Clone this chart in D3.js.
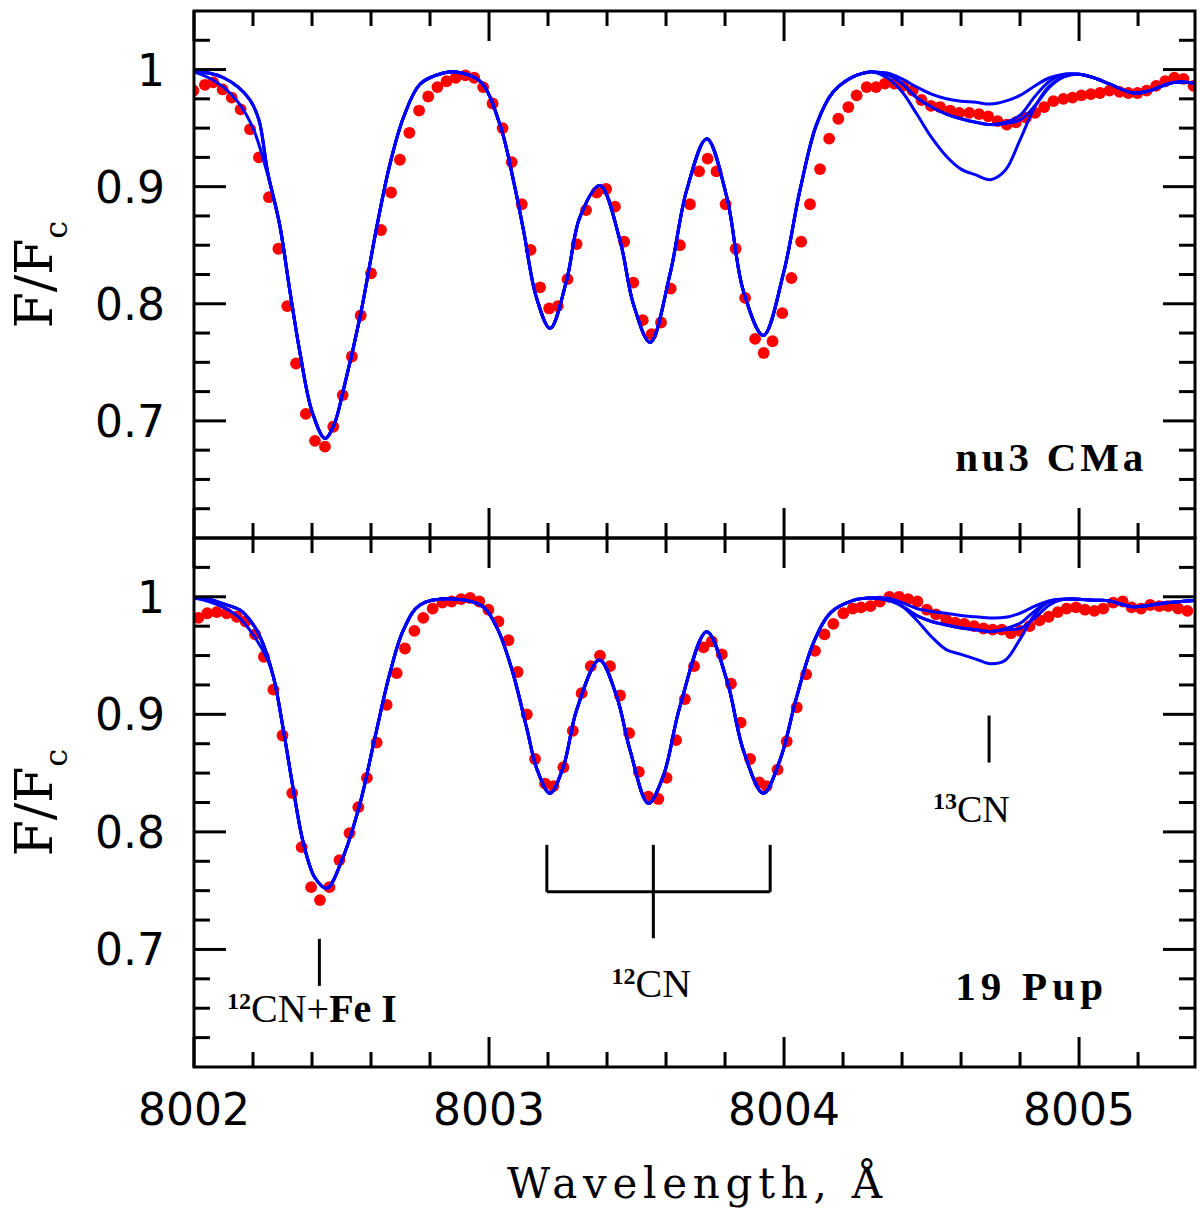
<!DOCTYPE html>
<html><head><meta charset="utf-8">
<script src="https://cdn.jsdelivr.net/npm/d3@7/dist/d3.min.js"></script>
<style>body{margin:0;background:#fff}</style>
</head><body>
<svg id="chart" width="1200" height="1216"></svg>
<script>
// ---------------- DATA ----------------
const xMajorTicks = [8002, 8003, 8004, 8005];
const xTickLabels = ["8002", "8003", "8004", "8005"];
const yMajorTicks = [0.7, 0.8, 0.9, 1.0];
const yTickLabels = ["0.7", "0.8", "0.9", "1"];

// observed spectrum, nu3 CMa  [wavelength, F/Fc]
const topObs = [[8001.998,0.982],[8002.037,0.987],[8002.065,0.989],[8002.097,0.983],[8002.128,0.976],[8002.158,0.966],[8002.190,0.949],[8002.220,0.925],[8002.254,0.891],[8002.286,0.847],[8002.316,0.798],[8002.346,0.749],[8002.379,0.706],[8002.410,0.683],[8002.444,0.678],[8002.472,0.695],[8002.504,0.722],[8002.535,0.755],[8002.565,0.790],[8002.600,0.826],[8002.634,0.863],[8002.668,0.895],[8002.698,0.923],[8002.730,0.946],[8002.763,0.965],[8002.794,0.977],[8002.825,0.985],[8002.856,0.990],[8002.887,0.993],[8002.920,0.995],[8002.950,0.993],[8002.980,0.985],[8003.012,0.971],[8003.046,0.950],[8003.077,0.921],[8003.111,0.885],[8003.141,0.846],[8003.173,0.814],[8003.204,0.796],[8003.233,0.798],[8003.266,0.821],[8003.297,0.851],[8003.329,0.880],[8003.365,0.895],[8003.397,0.898],[8003.427,0.883],[8003.458,0.853],[8003.489,0.818],[8003.521,0.786],[8003.551,0.774],[8003.583,0.784],[8003.616,0.813],[8003.647,0.850],[8003.681,0.885],[8003.712,0.913],[8003.741,0.924],[8003.771,0.913],[8003.802,0.885],[8003.836,0.847],[8003.868,0.805],[8003.902,0.770],[8003.931,0.758],[8003.961,0.768],[8003.994,0.792],[8004.025,0.822],[8004.058,0.853],[8004.088,0.885],[8004.122,0.915],[8004.153,0.941],[8004.184,0.958],[8004.218,0.968],[8004.246,0.978],[8004.280,0.985],[8004.312,0.985],[8004.342,0.988],[8004.374,0.988],[8004.404,0.986],[8004.436,0.982],[8004.466,0.974],[8004.498,0.969],[8004.529,0.968],[8004.563,0.965],[8004.594,0.963],[8004.628,0.963],[8004.661,0.962],[8004.692,0.960],[8004.724,0.956],[8004.755,0.953],[8004.786,0.955],[8004.820,0.959],[8004.851,0.963],[8004.882,0.968],[8004.913,0.973],[8004.947,0.975],[8004.978,0.976],[8005.008,0.978],[8005.040,0.979],[8005.071,0.980],[8005.103,0.982],[8005.137,0.981],[8005.167,0.980],[8005.198,0.980],[8005.229,0.982],[8005.261,0.986],[8005.292,0.990],[8005.323,0.993],[8005.354,0.992],[8005.388,0.986]];

// observed spectrum, 19 Pup
const bottomObs = [[8002.015,0.982],[8002.045,0.986],[8002.077,0.987],[8002.111,0.986],[8002.145,0.983],[8002.175,0.979],[8002.207,0.968],[8002.237,0.949],[8002.269,0.921],[8002.300,0.882],[8002.333,0.833],[8002.365,0.787],[8002.397,0.753],[8002.427,0.742],[8002.459,0.753],[8002.493,0.776],[8002.527,0.799],[8002.557,0.821],[8002.586,0.846],[8002.619,0.876],[8002.653,0.908],[8002.687,0.935],[8002.715,0.956],[8002.747,0.971],[8002.777,0.982],[8002.809,0.990],[8002.842,0.995],[8002.873,0.996],[8002.905,0.998],[8002.936,0.999],[8002.967,0.996],[8002.998,0.989],[8003.032,0.979],[8003.066,0.963],[8003.097,0.936],[8003.128,0.900],[8003.156,0.862],[8003.190,0.841],[8003.218,0.839],[8003.252,0.855],[8003.284,0.886],[8003.314,0.918],[8003.345,0.941],[8003.376,0.950],[8003.410,0.941],[8003.444,0.916],[8003.475,0.884],[8003.508,0.851],[8003.540,0.830],[8003.574,0.828],[8003.602,0.846],[8003.634,0.878],[8003.664,0.913],[8003.695,0.941],[8003.727,0.957],[8003.755,0.962],[8003.789,0.951],[8003.820,0.926],[8003.853,0.893],[8003.885,0.862],[8003.916,0.842],[8003.941,0.839],[8003.978,0.853],[8004.009,0.877],[8004.043,0.906],[8004.075,0.934],[8004.105,0.954],[8004.137,0.968],[8004.167,0.977],[8004.201,0.986],[8004.233,0.990],[8004.261,0.991],[8004.293,0.992],[8004.325,0.996],[8004.357,1.000],[8004.390,1.000],[8004.421,0.998],[8004.452,0.996],[8004.484,0.989],[8004.515,0.985],[8004.549,0.981],[8004.580,0.978],[8004.611,0.977],[8004.644,0.975],[8004.676,0.973],[8004.707,0.972],[8004.738,0.972],[8004.769,0.969],[8004.800,0.971],[8004.832,0.975],[8004.866,0.980],[8004.897,0.983],[8004.928,0.987],[8004.958,0.990],[8004.990,0.991],[8005.020,0.989],[8005.052,0.988],[8005.082,0.990],[8005.116,0.995],[8005.148,0.996],[8005.178,0.991],[8005.210,0.990],[8005.241,0.993],[8005.272,0.992],[8005.302,0.992],[8005.336,0.990],[8005.367,0.988]];

// synthetic spectra: part common to all models  [wavelength, F/Fc]
const topModelCore = [[8002.00,0.998],[8002.05,0.997],[8002.10,0.993],[8002.15,0.985],[8002.19,0.974],[8002.22,0.957],[8002.25,0.912],[8002.29,0.868],[8002.325,0.811],[8002.36,0.757],[8002.40,0.708],[8002.444,0.685],[8002.475,0.697],[8002.506,0.726],[8002.563,0.789],[8002.619,0.865],[8002.664,0.919],[8002.71,0.959],[8002.766,0.9875],[8002.845,0.997],[8002.89,0.998],[8002.97,0.990],[8003.037,0.953],[8003.083,0.905],[8003.117,0.8625],[8003.16,0.806],[8003.207,0.779],[8003.263,0.820],[8003.308,0.874],[8003.376,0.901],[8003.444,0.854],[8003.489,0.800],[8003.546,0.767],[8003.614,0.826],[8003.67,0.897],[8003.738,0.941],[8003.806,0.891],[8003.862,0.811],[8003.93,0.773],[8003.998,0.826],[8004.054,0.897],[8004.11,0.953],[8004.167,0.981],[8004.235,0.994],[8004.29,0.998],[8005.05,0.993],[8005.105,0.9875],[8005.184,0.980],[8005.24,0.982],[8005.32,0.989],[8005.40,0.988]];
const bottomModelCore = [[8002.00,0.999],[8002.05,0.998],[8002.10,0.994],[8002.156,0.9887],[8002.19,0.980],[8002.224,0.966],[8002.269,0.932],[8002.303,0.8867],[8002.337,0.8356],[8002.371,0.7903],[8002.41,0.761],[8002.45,0.752],[8002.506,0.779],[8002.563,0.8244],[8002.614,0.881],[8002.664,0.935],[8002.71,0.9718],[8002.766,0.993],[8002.89,0.998],[8002.98,0.9915],[8003.03,0.972],[8003.08,0.936],[8003.128,0.888],[8003.163,0.853],[8003.207,0.8328],[8003.252,0.8555],[8003.297,0.9037],[8003.374,0.9462],[8003.433,0.915],[8003.478,0.8695],[8003.54,0.8243],[8003.59,0.847],[8003.647,0.9065],[8003.738,0.9703],[8003.806,0.9292],[8003.862,0.8695],[8003.93,0.8328],[8003.986,0.861],[8004.043,0.915],[8004.10,0.961],[8004.16,0.987],[8004.235,0.997],[8004.29,0.999],[8005.05,0.997],[8005.10,0.9967],[8005.184,0.9915],[8005.297,0.995],[8005.40,0.997]];

// left wing of one model (slightly lower)
const leftWingWave = [8002.00, 8002.05, 8002.10, 8002.15, 8002.20, 8002.25];
const topLeftAlt = [0.998, 0.993, 0.985, 0.972, 0.950, 0.910];
const bottomLeftAlt = [0.999, 0.996, 0.991, 0.983, 0.968, 0.946];

// 13CN region: models with different 12C/13C
const cn13Wave = [8004.30, 8004.35, 8004.40, 8004.45, 8004.50, 8004.55, 8004.60, 8004.65, 8004.70, 8004.75, 8004.80, 8004.85, 8004.90, 8004.95, 8005.00];
const top13Shallow = [0.998, 0.997, 0.992, 0.985, 0.979, 0.975, 0.973, 0.972, 0.9705, 0.973, 0.978, 0.986, 0.993, 0.996, 0.996];
const top13Mid     = [0.998, 0.996, 0.988, 0.976, 0.968, 0.962, 0.958, 0.955, 0.953, 0.955, 0.961, 0.977, 0.990, 0.996, 0.996];
const top13Mid2    = [0.998, 0.996, 0.988, 0.976, 0.968, 0.962, 0.958, 0.955, 0.953, 0.954, 0.957, 0.969, 0.985, 0.994, 0.996];
const top13Deep    = [0.998, 0.993, 0.981, 0.962, 0.942, 0.926, 0.915, 0.910, 0.906, 0.914, 0.940, 0.968, 0.986, 0.994, 0.996];
const bottom13Shallow = [0.999, 0.999, 0.995, 0.990, 0.9875, 0.986, 0.984, 0.983, 0.982, 0.9825, 0.986, 0.992, 0.9967, 0.998, 0.998];
const bottom13Mid     = [0.999, 0.998, 0.992, 0.984, 0.979, 0.976, 0.9735, 0.972, 0.9705, 0.973, 0.9775, 0.988, 0.996, 0.998, 0.998];
const bottom13Mid2    = [0.999, 0.998, 0.992, 0.984, 0.979, 0.976, 0.9735, 0.972, 0.9705, 0.972, 0.973, 0.982, 0.993, 0.998, 0.998];
const bottom13Deep    = [0.999, 0.997, 0.992, 0.980, 0.966, 0.955, 0.951, 0.947, 0.943, 0.946, 0.964, 0.985, 0.996, 0.998, 0.998];

// annotations (bottom panel), in data units
const bracketWaves = [8003.196, 8003.557, 8003.953];
const bracketLevels = {top: 0.789, bar: 0.749, stem: 0.7095};
const cn13Mark = {wave: 8004.695, from: 0.899, to: 0.859};
const feMark = {wave: 8002.425, from: 0.709, to: 0.669};
const starNames = ["nu3 CMa", "19 Pup"];

// ---------------- DRAW ----------------
const svg = d3.select("#chart");
const X0 = 194, X1 = 1195;
const x = d3.scaleLinear().domain([8002, 8005.393]).range([X0, X1]);
const yDomain = [0.6, 1.05];

function buildModel(core, winWave, winFlux, leftFlux) {
  const lo = winWave[0], hi = winWave[winWave.length - 1];
  let pts = core.filter(p => p[0] < lo || p[0] > hi);
  pts = pts.concat(winWave.map((w, i) => [w, winFlux[i]]));
  if (leftFlux) {
    const lmax = leftWingWave[leftWingWave.length - 1];
    pts = pts.filter(p => p[0] > lmax).concat(leftWingWave.map((w, i) => [w, leftFlux[i]]));
  }
  return pts.sort((a, b) => a[0] - b[0]);
}

const panels = [
  { y0: 11, y1: 538, obs: topObs, name: starNames[0], nameLen: 188,
    models: [buildModel(topModelCore, cn13Wave, top13Shallow),
             buildModel(topModelCore, cn13Wave, top13Mid),
             buildModel(topModelCore, cn13Wave, top13Mid2),
             buildModel(topModelCore, cn13Wave, top13Deep, topLeftAlt)] },
  { y0: 538, y1: 1067, obs: bottomObs, name: starNames[1], nameLen: 148,
    models: [buildModel(bottomModelCore, cn13Wave, bottom13Shallow),
             buildModel(bottomModelCore, cn13Wave, bottom13Mid),
             buildModel(bottomModelCore, cn13Wave, bottom13Mid2),
             buildModel(bottomModelCore, cn13Wave, bottom13Deep, bottomLeftAlt)] }
];

const RED = "#ff0000", BLUE = "#0000ff";
const xMinor = d3.range(1, 17).filter(i => i % 5 !== 0).map(i => 8002 + i * 0.2);
const yMinor = d3.range(25, 42).filter(i => i % 4 !== 0).map(i => i * 0.025);

panels.forEach((p, pi) => {
  const y = d3.scaleLinear().domain(yDomain).range([p.y1, p.y0]);
  p.y = y;
  const clipId = "clip" + pi;
  svg.append("clipPath").attr("id", clipId).append("rect")
    .attr("x", X0).attr("y", p.y0).attr("width", X1 - X0).attr("height", p.y1 - p.y0);
  const g = svg.append("g").attr("clip-path", `url(#${clipId})`);

  g.selectAll("circle").data(p.obs).join("circle")
    .attr("cx", d => x(d[0])).attr("cy", d => y(d[1])).attr("r", 5.9).attr("fill", RED);

  const line = d3.line().x(d => x(d[0])).y(d => y(d[1])).curve(d3.curveCatmullRom.alpha(0.5));
  g.selectAll("path.model").data(p.models).join("path").attr("class", "model")
    .attr("d", line).attr("fill", "none").attr("stroke", BLUE).attr("stroke-width", 3)
    .attr("stroke-linejoin", "round");

  // frame
  svg.append("rect").attr("x", X0).attr("y", p.y0).attr("width", X1 - X0).attr("height", p.y1 - p.y0)
    .attr("fill", "none").attr("stroke", "#000").attr("stroke-width", 3);

  const tk = svg.append("g").attr("stroke", "#000").attr("stroke-width", 3);
  yMajorTicks.forEach(v => {
    tk.append("line").attr("x1", X0).attr("x2", X0 + 32).attr("y1", y(v)).attr("y2", y(v));
    tk.append("line").attr("x1", X1).attr("x2", X1 - 32).attr("y1", y(v)).attr("y2", y(v));
  });
  yMinor.forEach(v => {
    tk.append("line").attr("x1", X0).attr("x2", X0 + 16).attr("y1", y(v)).attr("y2", y(v));
    tk.append("line").attr("x1", X1).attr("x2", X1 - 16).attr("y1", y(v)).attr("y2", y(v));
  });
  xMajorTicks.forEach(w => {
    tk.append("line").attr("x1", x(w)).attr("x2", x(w)).attr("y1", p.y1).attr("y2", p.y1 - 30);
    tk.append("line").attr("x1", x(w)).attr("x2", x(w)).attr("y1", p.y0).attr("y2", p.y0 + 30);
  });
  xMinor.forEach(w => {
    tk.append("line").attr("x1", x(w)).attr("x2", x(w)).attr("y1", p.y1).attr("y2", p.y1 - 15);
    tk.append("line").attr("x1", x(w)).attr("x2", x(w)).attr("y1", p.y0).attr("y2", p.y0 + 15);
  });

  yMajorTicks.forEach((v, i) => {
    svg.append("text").attr("x", 165).attr("y", y(v) + 16).attr("text-anchor", "end")
      .attr("font-family", "DejaVu Sans").attr("font-size", 44).attr("fill", "#000")
      .text(yTickLabels[i]);
  });

  const cy = (p.y0 + p.y1) / 2;
  const yt = svg.append("text").attr("transform", `translate(52,${cy}) rotate(-90)`)
    .attr("text-anchor", "middle").attr("font-family", "DejaVu Serif").attr("font-size", 52).attr("fill", "#000");
  yt.append("tspan").text("F/F");
  yt.append("tspan").attr("font-size", 32).attr("dy", 15).text("c");

  svg.append("text").attr("x", x(8004.58)).attr("y", y(0.657))
    .attr("font-family", "Liberation Serif").attr("font-weight", "bold").attr("font-size", 41)
    .attr("fill", "#000")
    .attr("textLength", p.nameLen).attr("lengthAdjust", "spacing")
    .text(p.name);
});

xMajorTicks.forEach((w, i) => {
  svg.append("text").attr("x", x(w)).attr("y", 1125).attr("text-anchor", "middle")
    .attr("font-family", "DejaVu Sans").attr("font-size", 44).attr("fill", "#000")
    .text(xTickLabels[i]);
});

svg.append("text").attr("x", (X0 + X1) / 2).attr("y", 1198).attr("text-anchor", "middle")
  .attr("font-family", "DejaVu Serif").attr("font-size", 42).attr("fill", "#000")
  .attr("textLength", 375).attr("lengthAdjust", "spacing")
  .text("Wavelength, Å");

const yb = panels[1].y;
const an = svg.append("g").attr("stroke", "#000").attr("stroke-width", 3).attr("fill", "none");
bracketWaves.forEach(w => {
  an.append("line").attr("x1", x(w)).attr("x2", x(w)).attr("y1", yb(bracketLevels.top)).attr("y2", yb(bracketLevels.bar));
});
an.append("line").attr("x1", x(bracketWaves[0])).attr("x2", x(bracketWaves[2]))
  .attr("y1", yb(bracketLevels.bar)).attr("y2", yb(bracketLevels.bar));
an.append("line").attr("x1", x(bracketWaves[1])).attr("x2", x(bracketWaves[1]))
  .attr("y1", yb(bracketLevels.bar)).attr("y2", yb(bracketLevels.stem));
an.append("line").attr("x1", x(cn13Mark.wave)).attr("x2", x(cn13Mark.wave))
  .attr("y1", yb(cn13Mark.from)).attr("y2", yb(cn13Mark.to));
an.append("line").attr("x1", x(feMark.wave)).attr("x2", x(feMark.wave))
  .attr("y1", yb(feMark.from)).attr("y2", yb(feMark.to));

function isoLabel(xpos, ypos, anchor, parts) {
  const t = svg.append("text").attr("x", xpos).attr("y", ypos).attr("text-anchor", anchor)
    .attr("font-family", "Liberation Serif").attr("fill", "#000");
  parts.forEach(pt => {
    const s = t.append("tspan").attr("font-size", pt.size).text(pt.text);
    if (pt.bold) s.attr("font-weight", "bold");
    if (pt.dy) s.attr("dy", pt.dy);
  });
  return t;
}
isoLabel(x(8003.55), yb(0.6598), "middle", [
  {text: "12", size: 24, bold: true, dy: -13},
  {text: "CN", size: 40, dy: 13}]);
isoLabel(x(8004.505), yb(0.8087), "start", [
  {text: "13", size: 24, bold: true, dy: -13},
  {text: "CN", size: 38, dy: 13}]);
isoLabel(x(8002.112), yb(0.6385), "start", [
  {text: "12", size: 24, bold: true, dy: -13},
  {text: "CN+", size: 40, dy: 13},
  {text: "Fe I", size: 40, bold: true}]);
</script>
</body></html>
